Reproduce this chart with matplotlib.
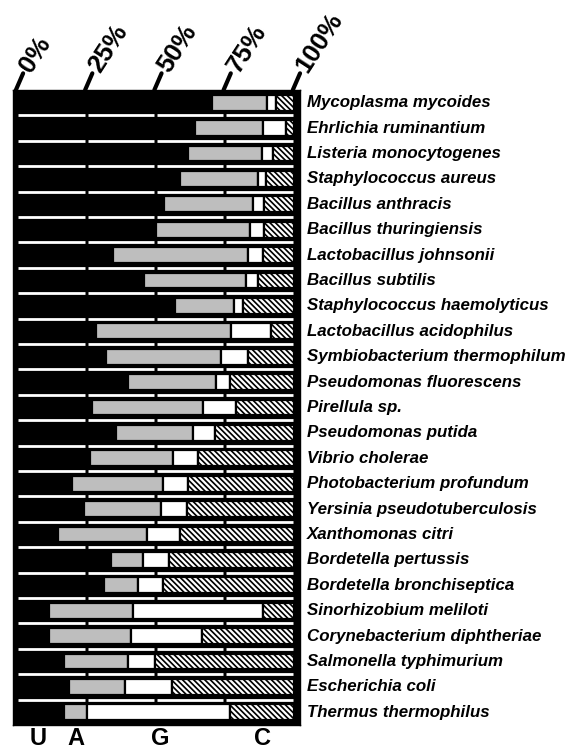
import matplotlib
matplotlib.use('Agg')
import matplotlib.pyplot as plt
import numpy as np

species = [
    "Mycoplasma mycoides", "Ehrlichia ruminantium", "Listeria monocytogenes",
    "Staphylococcus aureus", "Bacillus anthracis", "Bacillus thuringiensis",
    "Lactobacillus johnsonii", "Bacillus subtilis", "Staphylococcus haemolyticus",
    "Lactobacillus acidophilus", "Symbiobacterium thermophilum", "Pseudomonas fluorescens",
    "Pirellula sp.", "Pseudomonas putida", "Vibrio cholerae", "Photobacterium profundum",
    "Yersinia pseudotuberculosis", "Xanthomonas citri", "Bordetella pertussis",
    "Bordetella bronchiseptica", "Sinorhizobium meliloti", "Corynebacterium diphtheriae",
    "Salmonella typhimurium", "Escherichia coli", "Thermus thermophilus",
]
U = [70.5, 64.3, 61.9, 58.7, 53.2, 50.1, 34.8, 45.7, 57.0, 28.4, 32.0, 40.0, 27.0,
     35.6, 26.2, 20.0, 24.2, 14.7, 33.8, 31.3, 11.6, 11.6, 16.8, 18.8, 17.1]
A = [19.9, 24.7, 26.4, 28.3, 32.2, 33.9, 48.8, 36.9, 21.3, 48.9, 41.8, 32.0, 40.3,
     27.9, 30.2, 32.9, 27.7, 32.1, 11.6, 12.5, 30.4, 29.6, 23.2, 20.1, 8.1]
G = [3.0, 8.1, 4.0, 3.1, 3.9, 5.3, 5.1, 4.5, 3.4, 14.5, 9.8, 5.0, 11.8,
     8.1, 8.9, 8.7, 9.4, 12.0, 9.5, 9.0, 46.9, 25.6, 9.9, 17.1, 51.8]
C = [6.6, 2.9, 7.7, 9.9, 10.7, 10.7, 11.3, 12.9, 18.3, 8.2, 16.4, 23.0, 20.9,
     28.4, 34.7, 38.4, 38.7, 41.2, 45.1, 47.2, 11.1, 33.2, 50.1, 44.0, 23.0]
tick_values = [0, 25, 50, 75, 100]
tick_labels = ["0%", "25%", "50%", "75%", "100%"]
base_letters = ["U", "A", "G", "C"]
letter_pos = [7.6, 21.3, 51.6, 88.8]

plt.rcParams['hatch.linewidth'] = 1.6
plt.rcParams['font.family'] = ['Liberation Sans', 'DejaVu Sans']

W, H = 575, 749
fig = plt.figure(figsize=(W / 100, H / 100), dpi=100)
ax = fig.add_axes([13 / W, 1 - 725 / H, 287 / W, 635 / H])
ax.set_facecolor('black')
for s in ax.spines.values():
    s.set_color('black')
    s.set_linewidth(1)

n = len(species)
y = np.arange(n)
U_a = np.array(U); A_a = np.array(A); G_a = np.array(G); C_a = np.array(C)
h = 0.62
lw = 1.6
ax.barh(y, U_a, height=h, color='black', edgecolor='black', linewidth=lw)
ax.barh(y, A_a, left=U_a, height=h, color='#bebebe', edgecolor='black', linewidth=lw)
ax.barh(y, G_a, left=U_a + A_a, height=h, color='white', edgecolor='black', linewidth=lw)
ax.barh(y, C_a, left=U_a + A_a + G_a, height=h, color='black', edgecolor='white',
        linewidth=0, hatch='\\' * 6)
ax.barh(y, C_a, left=U_a + A_a + G_a, height=h, fill=False, edgecolor='black', linewidth=lw)

# white separator lines with gaps at quarter marks
for q in range(4):
    x0 = q * 25 + (0.4 if q == 0 else 0.6)
    x1 = (q + 1) * 25 - 0.5
    ax.hlines(y[:-1] + 0.5, x0, x1, colors='white', linewidth=2.0)

ax.set_xlim(-1.44, 102.2)
ax.set_ylim(n - 0.5, -0.5)
ax.set_xticks([]); ax.set_yticks([])

xt = ax.get_xaxis_transform()
for v, lab in zip(tick_values, tick_labels):
    ax.annotate('', xy=(v - 0.4, 1), xycoords=xt, xytext=(5.2, 12), textcoords='offset points',
                arrowprops=dict(arrowstyle='-', lw=3, color='black', shrinkA=0, shrinkB=0),
                annotation_clip=False)
    ax.annotate(lab, xy=(v - 0.4, 1), xycoords=xt, xytext=(6.5, 14.5), textcoords='offset points',
                rotation=57, rotation_mode='anchor', ha='left', va='center',
                fontsize=18.5, fontweight='bold', annotation_clip=False)

yt = ax.get_yaxis_transform()
for i, name in enumerate(species):
    ax.text(1.024, i, name, transform=yt, ha='left', va='center',
            fontsize=12.2, fontweight='bold', fontstyle='italic')

for lt, xp in zip(base_letters, letter_pos):
    ax.text(xp, -0.0205, lt, transform=xt, ha='center', va='center',
            fontsize=17, fontweight='bold')

fig.savefig('out.png', dpi=100, facecolor='white')
